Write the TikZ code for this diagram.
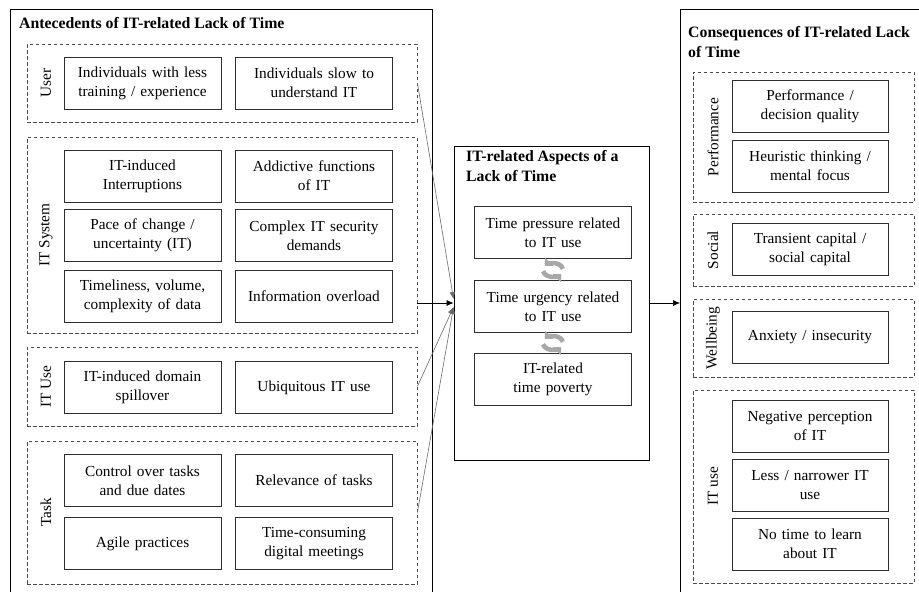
\documentclass[tikz,border=0pt]{standalone}
\usepackage{fontspec}
\setmainfont{Liberation Serif}
\usetikzlibrary{arrows.meta,calc}
\definecolor{ltInk}{HTML}{2E2E2E}
\definecolor{ltDash}{HTML}{4A4A4A}
\definecolor{ltLine}{HTML}{6A6A6A}
\definecolor{ltCycle}{HTML}{A8A8A8}
\tikzset{
  box/.style      ={draw=ltInk,line width=0.9pt,minimum width=157pt,minimum height=52pt,
                    text width=150pt,align=center,inner sep=0pt,
                    font=\fontsize{15.3}{19}\selectfont},
  grp/.style      ={draw=ltDash,line width=0.8pt,dash pattern=on 3.5pt off 2.5pt,inner sep=0pt},
  grplbl/.style   ={rotate=90,inner sep=0pt,font=\fontsize{15.3}{18}\selectfont},
  ttl/.style      ={anchor=north west,align=left,inner sep=0pt,
                    font=\bfseries\fontsize{15.8}{20}\selectfont},
  outframe/.style ={draw=black,line width=0.9pt},
  flow/.style     ={-{Latex[length=7pt,width=6pt]},ltLine,line width=0.6pt},
  flowk/.style    ={flow,black},
  cyc/.style      ={-{Triangle[length=6pt,width=11pt]},ltCycle,line width=4.6pt},
}

\begin{document}
\begin{tikzpicture}[x=1pt,y=-1pt]
\useasboundingbox (0,0) rectangle (919,592);

% ── antecedents ─────────────────────────────────────────────────────────────
\draw[outframe] (10,592) -- (10,9) -- (432,9) -- (432,592);
\node[ttl] (antTtl) at (19,17) {Antecedents of IT-related Lack of Time};

\node[grp,minimum width=390pt,minimum height=78pt]  (gUser) at (222,83)    {};
\node[grp,minimum width=390pt,minimum height=196pt] (gSys)  at (222,235)   {};
\node[grp,minimum width=390pt,minimum height=79pt]  (gUse)  at (222,386.5) {};
\node[grp,minimum width=390pt,minimum height=143pt] (gTask) at (222,512.5) {};

\node[grplbl] (lUser) at (46,83)    {User};
\node[grplbl] (lSys)  at (46,235)   {IT System};
\node[grplbl] (lUse)  at (46,386.5) {IT Use};
\node[grplbl] (lTask) at (46,512.5) {Task};

\node[box] (u1)  at (142.5,83)    {Individuals with less\\training / experience};
\node[box] (u2)  at (314,83)      {Individuals slow to\\understand IT};
\node[box] (s1)  at (142.5,176)   {IT-induced\\Interruptions};
\node[box] (s2)  at (314,176)     {Addictive functions\\of IT};
\node[box] (s3)  at (142.5,235.5) {Pace of change /\\uncertainty (IT)};
\node[box] (s4)  at (314,235.5)   {Complex IT security\\demands};
\node[box] (s5)  at (142.5,296)   {Timeliness, volume,\\complexity of data};
\node[box] (s6)  at (314,296)     {Information overload};
\node[box] (iu1) at (142.5,387.5) {IT-induced domain\\spillover};
\node[box] (iu2) at (314,387.5)   {Ubiquitous IT use};
\node[box] (t1)  at (142.5,480.5) {Control over tasks\\and due dates};
\node[box] (t2)  at (314,480.5)   {Relevance of tasks};
\node[box] (t3)  at (142.5,543.5) {Agile practices};
\node[box] (t4)  at (314,543.5)   {Time-consuming\\digital meetings};

% ── aspects ─────────────────────────────────────────────────────────────────
\node[outframe,minimum width=195pt,minimum height=314pt] (aspects) at (551.5,303) {};
\node[ttl] (aspTtl) at (466,150) {IT-related Aspects of a\\Lack of Time};
\node[box] (a1) at (553,232.5) {Time pressure related\\to IT use};
\node[box] (a2) at (553,306.5) {Time urgency related\\to IT use};
\node[box] (a3) at (553,379)   {IT-related\\time poverty};

\foreach \cy in {270,343}{
  \draw[cyc] ($(553,\cy)+(170:10 and 7)$) arc[start angle=170,end angle=35,x radius=10,y radius=7];
  \draw[cyc] ($(553,\cy)+(-10:10 and 7)$) arc[start angle=-10,end angle=-145,x radius=10,y radius=7];
}

% ── consequences ────────────────────────────────────────────────────────────
\draw[outframe] (680,592) -- (680,9) -- (919,9);
\node[ttl] (conTtl) at (688,26) {Consequences of IT-related Lack\\of Time};

\node[grp,minimum width=221pt,minimum height=130pt] (gPerf) at (803.5,137)   {};
\node[grp,minimum width=221pt,minimum height=72pt]  (gSoc)  at (803.5,250)   {};
\node[grp,minimum width=221pt,minimum height=78pt]  (gWell) at (803.5,338)   {};
\node[grp,minimum width=221pt,minimum height=193pt] (gITu)  at (803.5,486.5) {};

\node[grplbl] (lPerf) at (713,137)   {Performance};
\node[grplbl] (lSoc)  at (713,250)   {Social};
\node[grplbl] (lWell) at (713,338)   {Wellbeing};
\node[grplbl] (lITu)  at (713,486.5) {IT use};

\node[box,minimum width=156pt] (p1)  at (810,106)   {Performance /\\decision quality};
\node[box,minimum width=156pt] (p2)  at (810,166)   {Heuristic thinking /\\mental focus};
\node[box,minimum width=156pt] (so1) at (810,249)   {Transient capital /\\social capital};
\node[box,minimum width=156pt] (w1)  at (810,337.5) {Anxiety / insecurity};
\node[box,minimum width=156pt] (c1)  at (810,426)   {Negative perception\\of IT};
\node[box,minimum width=156pt] (c2)  at (810,485)   {Less / narrower IT\\use};
\node[box,minimum width=156pt] (c3)  at (810,544)   {No time to learn\\about IT};

% ── links ───────────────────────────────────────────────────────────────────
\coordinate (inA) at ([yshift=4pt]aspects.west);
\coordinate (inB) at (aspects.west);
\coordinate (inC) at ([yshift=-4pt]aspects.west);
\coordinate (conIn) at (680,303);
\draw[flow]  (gUser.east) -- (inA);
\draw[flowk] (gSys.east |- inB) -- (inB);
\draw[flow]  (gUse.east) -- (inC);
\draw[flow]  (gTask.east) -- (inC);
\draw[flowk] (aspects.east) -- (conIn);
\end{tikzpicture}
\end{document}
